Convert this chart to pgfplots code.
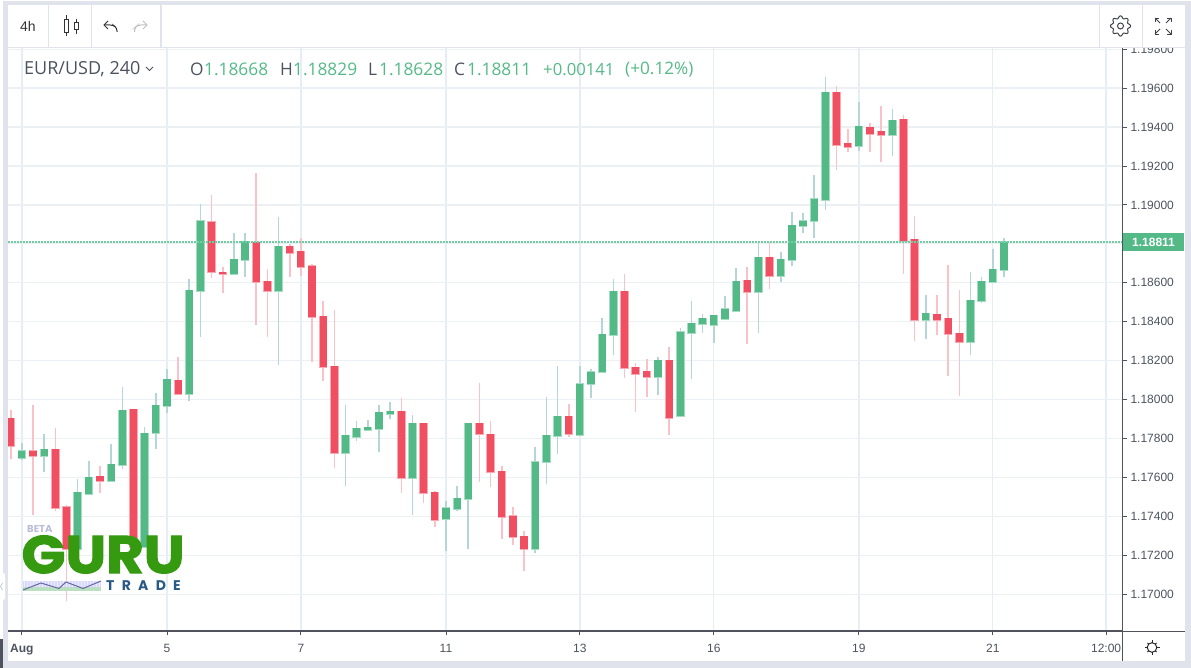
\documentclass[border=0pt]{standalone}
\usepackage{fontspec}
\usepackage{graphicx}
\usepackage{pgfplots}
\usepackage{pgfplotstable}
\pgfplotsset{compat=1.18}
\setmainfont{Liberation Sans}
\newfontfamily\hdr{Open Sans}
\newfontfamily\logo{Poppins}[BoldFeatures={FakeBold=2}]
\newfontfamily\logosmall{Poppins}
\newfontfamily\logotrack{Poppins}[LetterSpace=52]
\definecolor{up}{HTML}{53B987}
\definecolor{upedge}{HTML}{A5DCC2}
\definecolor{upwick}{HTML}{B4D6D8}
\definecolor{dn}{HTML}{EF4F60}
\definecolor{dnedge}{HTML}{F8A9B2}
\definecolor{dnwick}{HTML}{F9C2C9}
\definecolor{frame}{HTML}{E0E3EB}
\definecolor{axisc}{HTML}{50535E}
\definecolor{gridh}{HTML}{EBF0F5}
\definecolor{gridv}{HTML}{E4EEF4}
\definecolor{txt}{HTML}{4C525E}
\definecolor{lastline}{HTML}{6FD0A2}
\pgfplotstableread{
i o h l c
1 1.17698 1.17775 1.17689 1.17737
3 1.17710 1.17823 1.17629 1.17744
6 1.17231 1.17592 1.17218 1.17523
7 1.17516 1.17683 1.17513 1.17602
9 1.17580 1.17772 1.17578 1.17669
10 1.17664 1.18066 1.17642 1.17946
12 1.17244 1.17857 1.17240 1.17828
13 1.17828 1.18032 1.17747 1.17970
14 1.17965 1.18157 1.17929 1.18105
16 1.18027 1.18619 1.17994 1.18563
17 1.18558 1.19004 1.18320 1.18919
20 1.18646 1.18857 1.18646 1.18720
21 1.18715 1.18857 1.18631 1.18813
24 1.18558 1.18938 1.18179 1.18789
30 1.17727 1.17970 1.17557 1.17816
31 1.17806 1.17890 1.17787 1.17852
32 1.17844 1.17896 1.17840 1.17857
33 1.17850 1.17970 1.17730 1.17934
34 1.17924 1.17987 1.17900 1.17941
36 1.17597 1.17921 1.17408 1.17879
39 1.17388 1.17479 1.17223 1.17444
40 1.17438 1.17557 1.17429 1.17494
41 1.17489 1.17879 1.17231 1.17879
47 1.17231 1.17755 1.17213 1.17681
48 1.17678 1.18013 1.17565 1.17816
49 1.17813 1.18172 1.17722 1.17914
51 1.17818 1.18172 1.17818 1.18081
52 1.18082 1.18157 1.18009 1.18144
53 1.18140 1.18417 1.18140 1.18337
54 1.18332 1.18619 1.18230 1.18558
58 1.18116 1.18218 1.18025 1.18202
60 1.17914 1.18366 1.17914 1.18348
61 1.18342 1.18506 1.18105 1.18393
62 1.18388 1.18439 1.18342 1.18417
63 1.18381 1.18433 1.18290 1.18433
64 1.18415 1.18530 1.18409 1.18467
65 1.18456 1.18676 1.18456 1.18607
67 1.18552 1.18809 1.18342 1.18732
69 1.18636 1.18756 1.18602 1.18720
70 1.18717 1.18963 1.18686 1.18897
71 1.18891 1.18957 1.18855 1.18919
72 1.18919 1.19152 1.18828 1.19032
73 1.19027 1.19655 1.18975 1.19580
76 1.19302 1.19528 1.19278 1.19405
79 1.19359 1.19492 1.19251 1.19434
82 1.18410 1.18537 1.18311 1.18445
86 1.18297 1.18655 1.18229 1.18511
87 1.18506 1.18631 1.18494 1.18609
88 1.18602 1.18773 1.18602 1.18671
89 1.18668 1.18829 1.18628 1.18811
}\upcandles
\pgfplotstableread{
i o h l c
0 1.17904 1.17946 1.17693 1.17761
2 1.17737 1.17972 1.17407 1.17710
4 1.17744 1.17852 1.17429 1.17444
5 1.17449 1.17457 1.16964 1.17231
8 1.17607 1.17659 1.17521 1.17580
11 1.17950 1.17953 1.17237 1.17244
15 1.18100 1.18218 1.18023 1.18027
18 1.18914 1.19051 1.18626 1.18654
19 1.18655 1.18679 1.18546 1.18645
22 1.18809 1.19164 1.18383 1.18602
23 1.18609 1.18671 1.18320 1.18558
25 1.18789 1.18799 1.18631 1.18754
26 1.18761 1.18830 1.18636 1.18681
27 1.18688 1.18695 1.18193 1.18422
28 1.18428 1.18506 1.18094 1.18167
29 1.18172 1.18461 1.17648 1.17727
35 1.17941 1.18009 1.17521 1.17597
37 1.17879 1.17879 1.17467 1.17518
38 1.17523 1.17530 1.17347 1.17381
42 1.17879 1.18083 1.17575 1.17823
43 1.17823 1.17890 1.17552 1.17626
44 1.17631 1.17659 1.17285 1.17398
45 1.17403 1.17449 1.17251 1.17292
46 1.17297 1.17325 1.17118 1.17231
50 1.17914 1.17976 1.17808 1.17823
55 1.18558 1.18643 1.18111 1.18162
56 1.18167 1.18189 1.17936 1.18133
57 1.18145 1.18207 1.18015 1.18116
59 1.18202 1.18270 1.17818 1.17907
66 1.18614 1.18681 1.18285 1.18552
68 1.18732 1.18811 1.18568 1.18636
74 1.19580 1.19611 1.19179 1.19309
75 1.19316 1.19390 1.19273 1.19297
77 1.19400 1.19422 1.19273 1.19364
78 1.19378 1.19508 1.19222 1.19359
80 1.19440 1.19462 1.18645 1.18814
81 1.18823 1.18943 1.18302 1.18410
83 1.18439 1.18537 1.18332 1.18410
84 1.18417 1.18690 1.18121 1.18337
85 1.18342 1.18563 1.18018 1.18297
}\downcandles
\pgfplotstableread{
x y dx
-0.242 1.18811 99.862
}\lastprice
\begin{document}
\begin{tikzpicture}
\path[use as bounding box] (0,0) rectangle (1191pt,668pt);
\begin{axis}[
  at={(8pt,37pt)}, anchor=south west,
  scale only axis, width=1114.5pt, height=583pt,
  xmin=-0.242, xmax=99.62, ymin=1.16811, ymax=1.19806,
  axis x line*=bottom, axis y line*=right,
  axis line style={draw=axisc, line width=1pt, -},
  xtick={1,14,26,39,51,63,76,88,98.15},
  xticklabels={\textbf{Aug},5,7,11,13,16,19,21,12:00},
  ytick={1.170,1.172,1.174,1.176,1.178,1.180,1.182,1.184,1.186,1.190,1.192,1.194,1.196,1.198},
  extra y ticks={1.188}, extra y tick labels={},
  yticklabel style={/pgf/number format/.cd, fixed, fixed zerofill, precision=5, 1000 sep={}, assume math mode=true},
  xticklabel style={yshift=-5pt},
  tick label style={font=\fontsize{12}{14}\selectfont, text=txt},
  tick style={draw=axisc, line width=0.8pt},
  tick align=outside, major tick length=4.5pt,
  grid=major,
  x grid style={draw=gridv, line width=1.3pt},
  y grid style={draw=gridh, line width=1.3pt},
  clip=true,
]
% wicks
\addplot[draw=none, forget plot, error bars/.cd, y dir=both, y explicit, error mark=none,
  error bar style={draw=upwick, line width=1.6pt}]
  table[x=i, y=o, y error plus expr=\thisrow{h}-\thisrow{o}, y error minus expr=\thisrow{o}-\thisrow{l}] {\upcandles};
\addplot[draw=none, forget plot, error bars/.cd, y dir=both, y explicit, error mark=none,
  error bar style={draw=dnwick, line width=1.6pt}]
  table[x=i, y=c, y error plus expr=\thisrow{h}-\thisrow{c}, y error minus expr=\thisrow{c}-\thisrow{l}] {\downcandles};
% body edges
\addplot[draw=none, forget plot, error bars/.cd, y dir=both, y explicit, error mark=none,
  error bar style={draw=upedge, line width=8.4pt}]
  table[x=i, y=o, y error plus expr=\thisrow{c}-\thisrow{o}+0.00002, y error minus expr=0.00002] {\upcandles};
\addplot[draw=none, forget plot, error bars/.cd, y dir=both, y explicit, error mark=none,
  error bar style={draw=dnedge, line width=8.4pt}]
  table[x=i, y=c, y error plus expr=\thisrow{o}-\thisrow{c}+0.00002, y error minus expr=0.00002] {\downcandles};
% bodies
\addplot[draw=none, forget plot, error bars/.cd, y dir=both, y explicit, error mark=none,
  error bar style={draw=up, line width=7.2pt}]
  table[x=i, y=o, y error plus expr=\thisrow{c}-\thisrow{o}, y error minus expr=0] {\upcandles};
\addplot[draw=none, forget plot, error bars/.cd, y dir=both, y explicit, error mark=none,
  error bar style={draw=dn, line width=7.2pt}]
  table[x=i, y=c, y error plus expr=\thisrow{o}-\thisrow{c}, y error minus expr=0] {\downcandles};
% last price
\addplot[draw=none, forget plot, error bars/.cd, x dir=plus, x explicit, error mark=none,
  error bar style={draw=lastline, line width=2pt, dash pattern=on 2pt off 1pt}]
  table[x=x, y=y, x error=dx] {\lastprice};
\end{axis}
\begin{scope}[x=1pt,y=-1pt,yshift=668pt]
% frame and panels
\fill[white] (8,5) rectangle (1185,47.5);
\fill[frame] (0,1) rectangle (1191,5);
\fill[frame] (3,1) rectangle (8,668);
\fill[frame] (1185,1) rectangle (1191,668);
\fill[frame] (0,661) rectangle (1191,668);
\fill[white] (0,0) rectangle (1191,1);
\fill[white] (0,1) rectangle (3,639);
\fill[axisc] (0,639) rectangle (3,668);
\draw[frame, line width=1pt] (8,47.5) -- (1185,47.5);
\draw[frame, line width=1pt] (48.5,5) -- (48.5,47);
\draw[frame, line width=1pt] (91.5,5) -- (91.5,47);
\draw[frame, line width=2pt] (160.5,5) -- (160.5,47);
\draw[frame, line width=1pt] (1099.5,5) -- (1099.5,47);
\draw[frame, line width=1pt] (1142.5,5) -- (1142.5,47);
\draw[axisc, line width=1pt] (8,632) -- (1185,632);
\draw[axisc, line width=1pt] (1122.5,48) -- (1122.5,661);
\fill[white, rounded corners=2pt] (0,573) rectangle (5,600);
\draw[frame!70!gray, line width=0.7pt] (2.5,583) -- (0.5,586.5) -- (2.5,590);
% toolbar
\node[anchor=center, text=black!80, font=\fontsize{14}{16}\selectfont] at (28,26) {4h};
\draw[black!80, line width=1pt] (66,15.5) -- (66,36.5);
\draw[black!80, line width=1pt, fill=white] (64,19.5) rectangle (68.5,32.5);
\draw[black!80, line width=1pt] (76,19) -- (76,34);
\draw[black!80, line width=1pt, fill=white] (74,22.5) rectangle (78,30);
\draw[black!80, line width=1pt, rounded corners=3pt] (104,25) -- (113,25) -- (117,28) -- (117,32);
\draw[black!80, line width=1pt] (108,21) -- (104,25) -- (108,29);
\draw[black!25, line width=1pt, rounded corners=3pt] (147,25) -- (138,25) -- (134.5,28) -- (134.5,32);
\draw[black!25, line width=1pt] (143,21) -- (147,25) -- (143,29);
% gear
\begin{scope}[shift={(1120.5,26)}]
\draw[axisc!80!black, line width=1pt] (0,0) circle (3);
\draw[axisc!80!black, line width=1pt, domain=0:360, samples=97, smooth] plot (\x:{8.9+1.2*cos(8*\x)}) -- cycle;
\end{scope}
% expand
\begin{scope}[axisc!80!black, line width=0.9pt]
\draw (1155,18) -- (1160,23); \draw (1155,22) -- (1155,18) -- (1159,18);
\draw (1171,18) -- (1166,23); \draw (1171,22) -- (1171,18) -- (1167,18);
\draw (1155,34) -- (1160,29); \draw (1155,30) -- (1155,34) -- (1159,34);
\draw (1171,34) -- (1166,29); \draw (1171,30) -- (1171,34) -- (1167,34);
\end{scope}
% sun
\begin{scope}[shift={(1152,647.5)}]
\draw[black!85, line width=1pt] (0,0) circle (4.8);
\foreach \a in {0,90,180,270} \draw[black!85, line width=1pt] (\a:4.8) -- (\a:7.5);
\foreach \a in {45,135,225,315} \draw[black!85, line width=1pt] (\a:4.8) -- (\a:6.5);
\end{scope}
% legend header
\node[anchor=west, inner sep=0pt, text=txt, font=\hdr\fontsize{18}{20}\selectfont] at (24,69.5) {EUR/USD, 240};
\draw[txt, line width=1pt] (146,67) -- (149.5,70.5) -- (153,67);
\foreach \xa/\ta/\xb/\tb in {190/O/204/1.18668, 280/H/293/1.18829, 368/L/379/1.18628, 454/C/467/1.18811}{
  \node[anchor=west, inner sep=0pt, text=txt, font=\hdr\fontsize{17.3}{20}\selectfont] at (\xa,69.5) {\ta};
  \node[anchor=west, inner sep=0pt, text=up, font=\hdr\fontsize{17.3}{20}\selectfont] at (\xb,69.5) {\tb};
}
\node[anchor=west, inner sep=0pt, text=up, font=\hdr\fontsize{16.7}{20}\selectfont] at (543,69.5) {+0.00141};
\node[anchor=west, inner sep=0pt, text=up, font=\hdr\fontsize{17.2}{20}\selectfont] at (625,69.5) {(+0.12\%)};
% last price label
\fill[up] (1123,233) rectangle (1184,251);
\node[anchor=center, text=white, font=\bfseries\fontsize{12}{14}\selectfont] at (1153.5,242) {1.18811};
% logo
\node[anchor=west, inner sep=0pt, text=frame!90!blue!80!gray, font=\logosmall\bfseries\fontsize{10}{12}\selectfont] at (27,528.5) {BETA};
\node[anchor=center, inner sep=0pt, text={rgb,255:red,53;green,154;blue,16}, font=\logo\bfseries\fontsize{53}{55}\selectfont] at (103,554.5) {\scalebox{1.09}[1]{GURU}};
\fill[black!5!blue!15!white] (23,581) rectangle (101,591);
\foreach \k in {0,...,25} \fill[white, opacity=0.5] ({23.5+3*\k},581) rectangle ({24.5+3*\k},591);
\fill[green!60!black!30!white, opacity=0.8] (23,587) rectangle (101,591);
\draw[blue!40!black!60!white, line width=1pt] (23,590) -- (41,583) -- (59,588.5) -- (66,582) -- (83,588.5) -- (101,581);
\node[anchor=west, inner sep=0pt, text={rgb,255:red,41;green,90;blue,133}, font=\logotrack\bfseries\fontsize{14}{16}\selectfont] at (106,585.5) {TRADE};
\end{scope}
\end{tikzpicture}
\end{document}
